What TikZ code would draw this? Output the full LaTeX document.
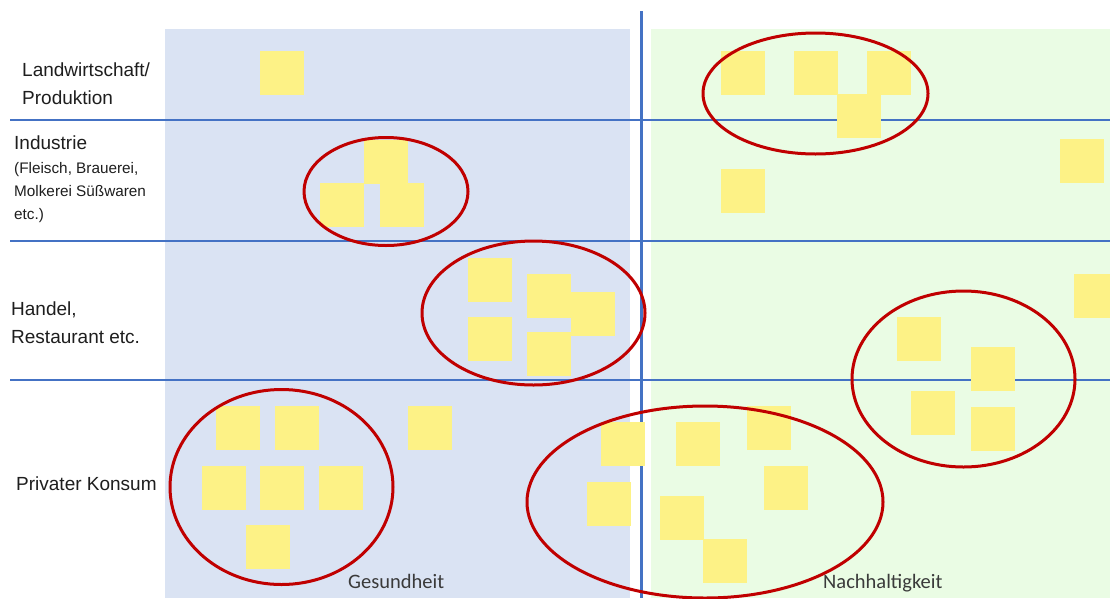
\documentclass[tikz,border=0pt]{standalone}
\usepackage{fontspec}
\setmainfont{Liberation Sans}
\newfontfamily\calib{Carlito}
\definecolor{panelblue}{HTML}{DAE3F3}
\definecolor{panelgreen}{HTML}{EAFCE4}
\definecolor{gridblue}{HTML}{4472C4}
\definecolor{ringred}{HTML}{C00000}
\definecolor{notey}{HTML}{FDF286}
\definecolor{txt}{HTML}{1E1E1E}
\definecolor{axtxt}{HTML}{3A3A3A}
\tikzset{
  sticky/.style={fill=notey, draw=none, anchor=north west, minimum width=43.5pt, minimum height=43.5pt, inner sep=0pt},
  gridline/.style={draw=gridblue, line width=2pt},
  axisline/.style={draw=gridblue, line width=3pt},
  ring/.style={draw=ringred, line width=3pt},
  rowlabel/.style={anchor=base west, inner sep=0pt, text=txt, font=\fontsize{19}{28}\selectfont, align=left},
  sublabel/.style={anchor=base west, inner sep=0pt, text=txt, font=\fontsize{15.3}{23}\selectfont, align=left},
  axislabel/.style={anchor=base west, inner sep=0pt, text=axtxt, font=\calib\fontsize{20.5}{24}\selectfont}
}
\begin{document}
\begin{tikzpicture}[x=1pt, y=-1pt]
\clip (0,0) rectangle (1110,598);
\fill[white] (0,0) rectangle (1110,598);
% panels
\fill[panelblue] (165,29) rectangle (630,598);
\fill[panelgreen] (651,29) rectangle (1110,598);
% grid lines
\draw[gridline] (10,120) -- (1110,120);
\draw[gridline] (10,240.5) -- (1110,240.5);
\draw[gridline] (10,380) -- (1110,380);
\draw[axisline] (641.5,11) -- (641.5,598);
% sticky notes: Landwirtschaft
\node[sticky] (l1) at (260,51) {};
\node[sticky] (l2) at (721,51) {};
\node[sticky] (l3) at (794,51) {};
\node[sticky] (l4) at (867,51) {};
\node[sticky] (l5) at (837,94) {};
% Industrie
\node[sticky] (i1) at (364,140) {};
\node[sticky] (i2) at (320,183) {};
\node[sticky] (i3) at (380,183) {};
\node[sticky] (i4) at (1060,139) {};
\node[sticky] (i5) at (721,169) {};
% Handel
\node[sticky] (h1) at (468,258) {};
\node[sticky] (h2) at (527,274) {};
\node[sticky] (h3) at (571,292) {};
\node[sticky] (h4) at (468,317) {};
\node[sticky] (h5) at (527,332) {};
\node[sticky] (h6) at (1074,274) {};
\node[sticky] (h7) at (897,317) {};
\node[sticky] (h8) at (971,347) {};
% Privater Konsum
\node[sticky] (p1) at (911,391) {};
\node[sticky] (p2) at (971,407) {};
\node[sticky] (p3) at (216,406) {};
\node[sticky] (p4) at (275,406) {};
\node[sticky] (p5) at (202,466) {};
\node[sticky] (p6) at (260,466) {};
\node[sticky] (p7) at (319,466) {};
\node[sticky] (p8) at (246,525) {};
\node[sticky] (p9) at (408,406) {};
\node[sticky] (p10) at (601,422) {};
\node[sticky] (p11) at (587,482) {};
\node[sticky] (p12) at (676,422) {};
\node[sticky] (p13) at (747,406) {};
\node[sticky] (p14) at (764,466) {};
\node[sticky] (p15) at (660,496) {};
\node[sticky] (p16) at (703,539) {};
% rings
\draw[ring] (815.5,93.5) ellipse [x radius=112.5, y radius=60.5];
\draw[ring] (386,191.5) ellipse [x radius=82, y radius=54];
\draw[ring] (533.5,313) ellipse [x radius=111.5, y radius=72];
\draw[ring] (963.5,379) ellipse [x radius=111.5, y radius=88];
\draw[ring] (281.5,487) ellipse [x radius=111.5, y radius=97.5];
\draw[ring] (705,502) ellipse [x radius=178, y radius=96];
% row labels (base = baseline of last line)
\node[rowlabel] (t1) at (22,104) {Landwirtschaft/\\Produktion};
\node[rowlabel] (t2) at (14,149) {Industrie};
\node[sublabel] (t3) at (14,219) {(Fleisch, Brauerei,\\Molkerei Süßwaren\\etc.)};
\node[rowlabel] (t4) at (11,343) {Handel,\\Restaurant etc.};
\node[rowlabel] (t5) at (16,490) {Privater Konsum};
% axis labels
\node[axislabel] (a1) at (348,588) {Gesundheit};
\node[axislabel] (a2) at (823,588) {Nachhaltigkeit};
\end{tikzpicture}
\end{document}
